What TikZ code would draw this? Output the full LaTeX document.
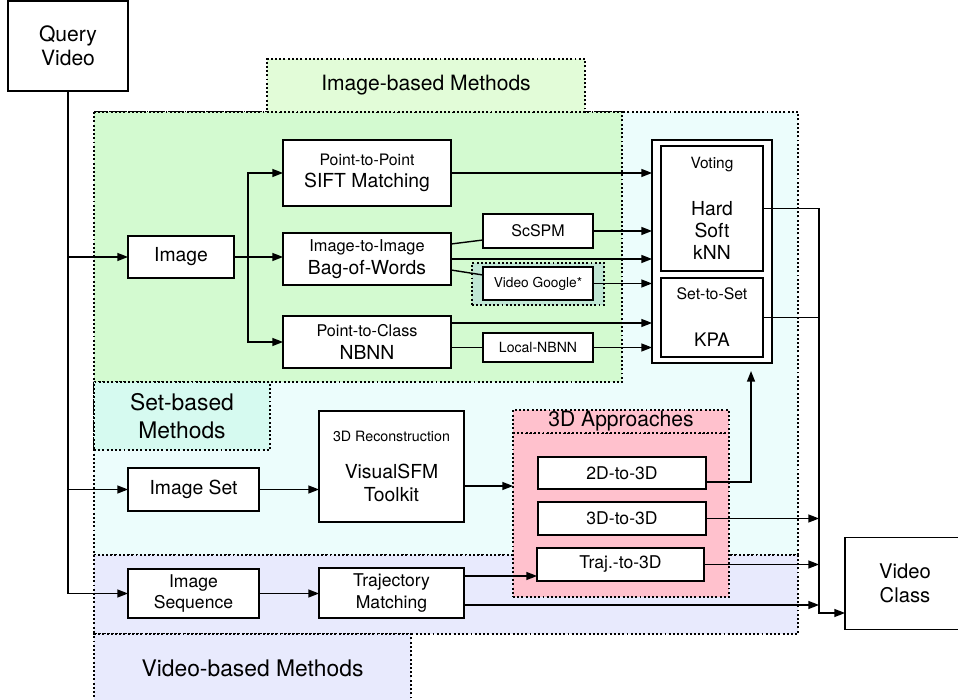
\documentclass[tikz,border=0pt]{standalone}
\usepackage{fontspec}
\setmainfont{TeX Gyre Heros}
\usepackage{tikz}
\usetikzlibrary{positioning,calc,fit}
\usetikzlibrary{arrows.meta}

\definecolor{cyanbg}{RGB}{236,253,252}
\definecolor{greenbg}{RGB}{211,250,208}
\definecolor{greenlbl}{RGB}{226,252,216}
\definecolor{setlbl}{RGB}{214,250,240}
\definecolor{videobg}{RGB}{232,234,253}
\definecolor{pinkbg}{RGB}{255,193,205}
\definecolor{vgbg}{RGB}{192,231,212}

\newcommand{\fs}[2]{\fontsize{#1}{#2}\selectfont}

\begin{document}
\begin{tikzpicture}[x=0.2mm,y=-0.2mm,
    box/.style={rectangle,draw,fill=white,line width=0.9pt,inner sep=0pt,outer sep=0pt,align=center,font=\fs{11}{13}},
    area/.style={rectangle,draw,line width=0.9pt,dash pattern=on 1.1pt off 1.3pt,inner sep=0pt,outer sep=0pt,align=center},
    con/.style={draw,line width=0.8pt},
    arr/.style={draw,line width=0.8pt,-{Triangle[length=6pt,width=4.5pt]}}]
    \useasboundingbox (0,0) rectangle (958,700);

    % method areas
    \draw[area,fill=cyanbg] (94,112) rectangle (798,555);
    \draw[area,fill=greenbg] (94,112) rectangle (622,382);
    \draw[area,fill=videobg] (94,555) rectangle (798,634);
    \node[area,fill=greenlbl,minimum width=63.6mm,minimum height=10.6mm,font=\fs{12}{14}] (imglbl) at (426,85.5) {Image-based Methods};
    \node[area,fill=setlbl,minimum width=35.2mm,minimum height=13.6mm,font=\fs{13}{16.3}] (setlbl) at (182,416) {Set-based\\Methods};
    \node[area,fill=videobg,minimum width=63.4mm,minimum height=13.6mm,font=\fs{13}{15}] (vidlbl) at (252.5,668) {Video-based Methods};
    \node[area,fill=pinkbg,minimum width=43.2mm,minimum height=32.8mm] (ap3) at (621,515) {};
    \node[area,fill=pinkbg,minimum width=43.2mm,minimum height=4.6mm,font=\fs{12}{13}] (ap3lbl) at (621,421.5) {3D Approaches};
    \node[area,fill=vgbg,minimum width=26.4mm,minimum height=8.4mm] (vgarea) at (538,284) {};

    % boxes
    \node[box,minimum width=24mm,minimum height=18mm,font=\fs{12}{13.8}] (qv) at (68,46) {Query\\Video};
    \node[box,minimum width=21.2mm,minimum height=8.4mm] (img) at (181,257) {Image};
    \node[box,minimum width=33.6mm,minimum height=13.2mm,font=\fs{11}{12.3}] (sift) at (367,173) {{\fs{9}{11}Point-to-Point}\\SIFT Matching};
    \node[box,minimum width=33.6mm,minimum height=10.4mm] (bow) at (367,259) {{\fs{9.3}{11}Image-to-Image}\\Bag-of-Words};
    \node[box,minimum width=33.6mm,minimum height=10.4mm] (nbnn) at (367,342) {{\fs{9.2}{11}Point-to-Class}\\NBNN};
    \node[box,minimum width=22mm,minimum height=6.8mm,font=\fs{9.1}{11}] (scspm) at (538,231) {ScSPM};
    \node[box,minimum width=22mm,minimum height=6.6mm,font=\fs{7.8}{9}] (vg) at (538,283.5) {Video Google*};
    \node[box,minimum width=22mm,minimum height=5.8mm,font=\fs{8}{9}] (lnbnn) at (538,347.5) {Local-NBNN};
    \node[box,minimum width=24mm,minimum height=44.6mm] (vote) at (712,251.5) {};
    \node[box,minimum width=20.4mm,minimum height=25mm,font=\fs{11}{12.7}] (voting) at (712,208.5) {{\fs{8.8}{10}Voting}\\[14pt]Hard\\Soft\\kNN};
    \node[box,minimum width=20.4mm,minimum height=15.8mm,font=\fs{10.6}{12.7}] (sts) at (712,317.5) {{\fs{9}{10}Set-to-Set}\\[14pt]KPA};
    \node[box,minimum width=26.2mm,minimum height=8.6mm] (imgset) at (193.5,489.5) {Image Set};
    \node[box,minimum width=29mm,minimum height=22.2mm,font=\fs{11}{13.3}] (sfm) at (391.5,466.5) {{\fs{8.1}{10}3D Reconstruction}\\[8pt]VisualSFM\\Toolkit};
    \node[box,minimum width=26.2mm,minimum height=9.8mm,font=\fs{10}{12.3}] (imgseq) at (193.5,593.5) {Image\\Sequence};
    \node[box,minimum width=29mm,minimum height=10mm,font=\fs{10}{12.3}] (traj) at (391.5,593) {Trajectory\\Matching};
    \node[box,minimum width=33.6mm,minimum height=6.4mm,font=\fs{10}{12}] (d2) at (622,473) {2D-to-3D};
    \node[box,minimum width=33.6mm,minimum height=6.6mm,font=\fs{10}{12}] (d3) at (622,518.5) {3D-to-3D};
    \node[box,minimum width=33.4mm,minimum height=6.6mm,font=\fs{10}{12}] (tr3) at (620.5,564.5) {Traj.-to-3D};
    \node[box,minimum width=24mm,minimum height=18.4mm,font=\fs{11.5}{13.5}] (vc) at (905,583.5) {Video\\Class};

    % query video to the three inputs
    \draw[arr] (qv.south) |- (imgseq.west);
    \draw[arr] (qv.south |- img.west) -- (img.west);
    \draw[arr] (qv.south |- imgset.west) -- (imgset.west);

    % image-based branch
    \coordinate (isplit) at (248,257);
    \draw[arr] (img.east) -- (img.east -| bow.west);
    \draw[arr] (isplit) |- (sift.west);
    \draw[arr] (isplit) |- (nbnn.west);
    \draw[arr] (sift.east) -- (sift.east -| vote.west);
    \draw[con] ($(bow.east)+(0,-15)$) -- ($(scspm.west)+(0,9)$);
    \draw[con] ($(bow.east)+(0,11)$) -- ($(vg.west)+(0,-8.5)$);
    \draw[arr] (bow.east) -- (bow.east -| vote.west);
    \draw[arr] (scspm.east) -- (scspm.east -| vote.west);
    \draw[arr] (vg.east) -- (vg.east -| vote.west);
    \draw[arr] ($(nbnn.east)+(0,-19)$) coordinate (n1) -- (n1 -| vote.west);
    \draw[con] (nbnn.east |- lnbnn.west) -- (lnbnn.west);
    \draw[arr] (lnbnn.east) -- (lnbnn.east -| vote.west);

    % set-based branch
    \draw[arr] (imgset.east) -- (imgset.east -| sfm.west);
    \draw[arr] ($(sfm.east)+(0,19.5)$) coordinate (s1) -- (s1 -| ap3.west);
    \draw[arr] ($(d2.east)+(0,9)$) -| ($(vote.south)+(39,8)$);

    % video-based branch
    \draw[arr] (imgseq.east) -- (imgseq.east -| traj.west);
    \draw[arr] ($(traj.east)+(0,-17)$) coordinate (t1) -- (t1 -| tr3.west);

    % everything into the class decision
    \coordinate (vbus) at (819,212);
    \coordinate (vcin) at ($(vc.west)+(0,29.5)$);
    \draw[arr] (voting.east) -| (vbus |- vcin) -- (vcin);
    \draw[con] (sts.east) -- (sts.east -| vbus);
    \draw[arr] (d3.east) -- (d3.east -| vbus);
    \draw[arr] (tr3.east) -- (tr3.east -| vbus);
    \draw[arr] ($(traj.east)+(0,12)$) coordinate (t2) -- (t2 -| vbus);
\end{tikzpicture}
\end{document}
